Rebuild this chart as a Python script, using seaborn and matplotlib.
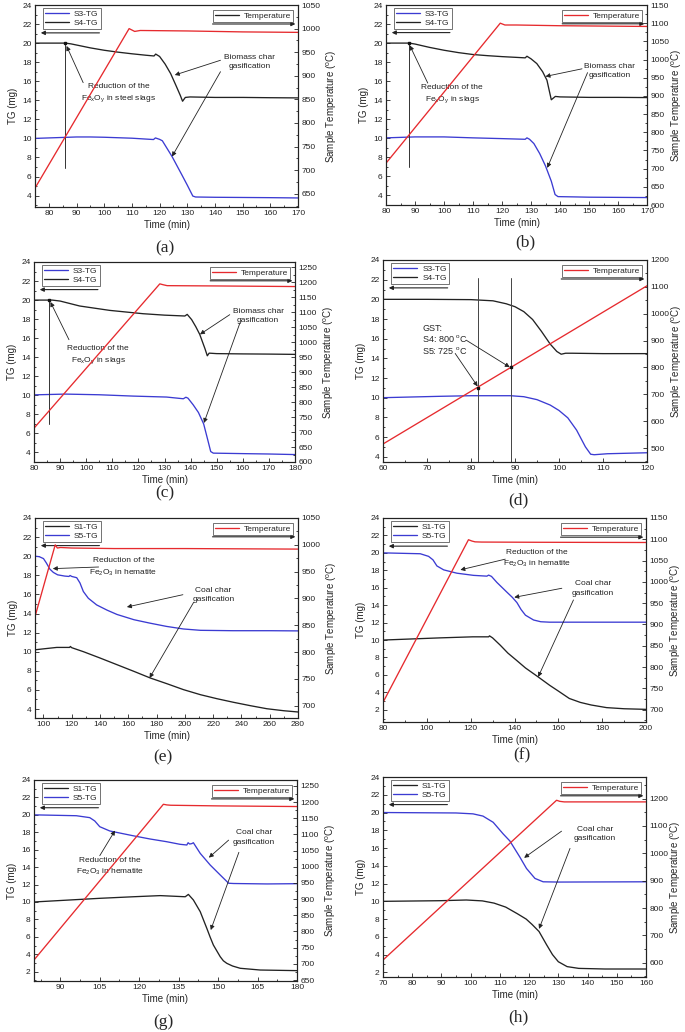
import numpy as np
import matplotlib
matplotlib.use("Agg")
import matplotlib.pyplot as plt
from matplotlib.lines import Line2D
from matplotlib.ticker import MultipleLocator
import seaborn as sns

sns.set_style("ticks")
plt.rcParams['font.family'] = ['Liberation Sans', 'DejaVu Sans']
plt.rcParams['mathtext.default'] = 'regular'

# ---------------- data ----------------
# (a)
A_S3_T = [75, 80, 90, 95, 100, 110, 117.8, 118.5, 120, 121, 124.5, 128, 130, 132, 133, 140, 150, 160, 170]
A_S3 = [10.0, 10.05, 10.15, 10.15, 10.12, 10.02, 9.88, 10.05, 9.9, 9.75, 8.1, 6.2, 5.1, 3.95, 3.85, 3.82, 3.8, 3.78, 3.75]
A_S4_T = [75, 86, 88, 90, 95, 100, 105, 110, 115, 118, 118.6, 120, 122, 124, 126, 127.5, 128.3, 129.3, 131, 140, 150, 160, 170]
A_S4 = [20.0, 20.0, 19.92, 19.8, 19.5, 19.25, 19.05, 18.88, 18.73, 18.65, 18.85, 18.6, 17.8, 16.8, 15.5, 14.5, 13.9, 14.3, 14.35, 14.3, 14.3, 14.27, 14.25]
A_TEMP_T = [75, 109, 110, 111, 113, 130, 150, 170]
A_TEMP = [662, 1000, 997, 994, 996, 995, 993, 992]
# (b)
B_S3_T = [80, 90, 100, 110, 120, 128, 128.6, 129.5, 131, 133, 135, 137, 138.3, 139.3, 145, 150, 160, 170]
B_S3 = [10.05, 10.15, 10.15, 10.05, 9.97, 9.9, 10.05, 9.9, 9.45, 8.4, 7.1, 5.5, 4.1, 3.88, 3.85, 3.82, 3.8, 3.78]
B_S4_T = [80, 88, 90, 95, 100, 105, 110, 115, 120, 125, 128, 128.6, 130, 132, 134, 135.5, 136.3, 137, 138.4, 140, 150, 160, 170]
B_S4 = [20.0, 20.0, 19.9, 19.55, 19.25, 19.0, 18.8, 18.68, 18.58, 18.5, 18.45, 18.62, 18.35, 17.85, 17.0, 16.1, 15.0, 14.05, 14.4, 14.35, 14.3, 14.3, 14.28]
B_TEMP_T = [80, 119.4, 121, 125, 140, 155, 170]
B_TEMP = [715, 1100, 1095, 1095, 1093, 1092, 1091]
# (c)
C_S3_T = [80, 92, 105, 118, 130.8, 137.2, 138.2, 139, 141, 143, 145, 146.5, 147.7, 148.7, 160, 170, 180]
C_S3 = [10.05, 10.13, 10.06, 9.92, 9.82, 9.64, 9.8, 9.7, 9.0, 8.2, 7.0, 5.4, 4.1, 3.93, 3.88, 3.84, 3.78]
C_S4_T = [80, 87, 90, 97.5, 109, 121.8, 130, 137.8, 138.7, 140.4, 142, 143.5, 145.5, 146.4, 147.1, 150, 160, 170, 180]
C_S4 = [20.0, 20.0, 19.9, 19.38, 18.92, 18.57, 18.42, 18.33, 18.5, 17.95, 17.2, 16.4, 14.9, 14.15, 14.43, 14.38, 14.35, 14.33, 14.3]
C_TEMP_T = [80, 128.2, 129.5, 131, 150, 180]
C_TEMP = [713, 1195, 1192, 1189, 1188, 1186]
# (d)
D_S3_T = [60, 73, 80, 89, 92, 95, 98, 100, 102, 104, 106, 107.2, 108, 111, 120]
D_S3 = [10.0, 10.14, 10.2, 10.2, 10.1, 9.8, 9.25, 8.7, 7.95, 6.7, 5.0, 4.25, 4.2, 4.3, 4.4]
D_S4_T = [60, 70, 80, 85, 88, 90, 92, 94, 96, 98, 99.5, 100.5, 101.5, 103, 110, 120]
D_S4 = [20.0, 20.0, 19.97, 19.85, 19.55, 19.25, 18.75, 17.95, 16.75, 15.45, 14.7, 14.42, 14.52, 14.52, 14.48, 14.48]
D_TEMP_T = [60, 120]
D_TEMP = [515, 1104]
D_GST_T = [81.7, 89.0]
D_GST = [725, 800]
# (e)
E_S1_T = [94, 100, 109.4, 118.5, 119, 120, 128.3, 140, 152, 164, 175.5, 187.3, 199, 211, 222.7, 234.5, 246.3, 258, 270, 280]
E_S1 = [10.2, 10.3, 10.45, 10.45, 10.55, 10.42, 10.0, 9.34, 8.64, 7.94, 7.25, 6.65, 6.03, 5.5, 5.08, 4.7, 4.35, 4.03, 3.82, 3.69]
E_S5_T = [94, 97, 100, 102, 104.5, 107, 110, 115, 118, 118.8, 120, 123.5, 125.8, 128.2, 131.7, 137.6, 145, 152, 164, 175, 187, 199, 211, 234, 260, 280]
E_S5 = [20.0, 19.95, 19.75, 19.3, 18.65, 18.3, 18.05, 17.92, 17.88, 17.98, 17.88, 17.75, 17.2, 16.3, 15.6, 14.9, 14.35, 13.9, 13.35, 13.0, 12.65, 12.38, 12.24, 12.2, 12.2, 12.18]
E_TEMP_T = [94, 108.3, 109.8, 112, 120, 150, 200, 280]
E_TEMP = [866, 1000, 994, 995, 994, 993, 993, 992]
# (f)
F_S1_T = [80, 106, 121, 128.2, 128.6, 130, 133.5, 137, 140.9, 145, 150.8, 156.1, 160, 165, 170, 175, 182, 190, 200]
F_S1 = [10.0, 10.25, 10.37, 10.37, 10.48, 10.25, 9.41, 8.5, 7.68, 6.8, 5.77, 4.8, 4.15, 3.3, 2.85, 2.55, 2.25, 2.12, 2.05]
F_S5_T = [80, 97, 100.8, 102.8, 104.6, 107.7, 113.7, 121.3, 127.4, 128.2, 129.5, 132, 136.5, 139, 141.1, 143, 145, 148.7, 152, 156, 180, 200]
F_S5 = [20.0, 19.9, 19.6, 19.2, 18.5, 18.05, 17.67, 17.42, 17.33, 17.45, 17.3, 16.6, 15.5, 14.9, 14.3, 13.5, 12.85, 12.3, 12.1, 12.05, 12.05, 12.05]
F_TEMP_T = [80, 119, 120.5, 122, 125, 150, 200]
F_TEMP = [717, 1099, 1096, 1094, 1093.5, 1093, 1092.5]
# (g)
G_S1_T = [80, 105, 117.8, 128, 137.5, 138.7, 140.6, 143.2, 145.7, 147, 148.2, 150.8, 152, 153.3, 155.5, 158.4, 166, 180]
G_S1 = [10.0, 10.42, 10.6, 10.73, 10.6, 10.87, 10.23, 8.89, 6.98, 5.95, 5.06, 3.72, 3.25, 2.96, 2.65, 2.39, 2.19, 2.12]
G_S5_T = [80, 96.1, 101.2, 103.1, 105, 108.8, 117.7, 124.1, 130.4, 135.5, 138.1, 138.6, 139.2, 140, 140.6, 143.2, 147, 150.8, 154, 155.9, 168.6, 180]
G_S5 = [20.0, 19.9, 19.68, 19.3, 18.64, 18.15, 17.6, 17.23, 16.92, 16.62, 16.54, 16.8, 16.65, 16.7, 16.8, 15.58, 14.24, 13.1, 12.15, 12.12, 12.07, 12.1]
G_TEMP_T = [80, 129.2, 130.5, 132, 150, 180]
G_TEMP = [712, 1193, 1191, 1190, 1188, 1186]
# (h)
H_S1_T = [70, 89.4, 98.5, 104, 108, 112, 116, 119, 121, 123.4, 126, 128, 130, 133, 137, 146, 160]
H_S1 = [10.0, 10.07, 10.15, 10.05, 9.8, 9.35, 8.6, 8.0, 7.4, 6.6, 5.1, 4.0, 3.2, 2.65, 2.45, 2.38, 2.38]
H_S5_T = [70, 95, 100.8, 104.2, 107.7, 111.1, 113.4, 116.8, 119.1, 122, 124.8, 130, 140, 160]
H_S5 = [20.0, 19.95, 19.85, 19.6, 18.9, 17.6, 16.8, 15.0, 13.7, 12.58, 12.2, 12.17, 12.18, 12.2]
H_TEMP_T = [70, 129.4, 130.5, 132, 160]
H_TEMP = [610, 1194, 1190, 1188, 1188]

# ---------------- styling ----------------
BLUE = '#3b3bd2'
BLACK = '#222222'
RED = '#e62a2e'
FS = 6
W, H = 685, 1032

fig = plt.figure(figsize=(W / 100, H / 100), dpi=100)


def px_rect(l, r, t, b):
    return [l / W, 1 - b / H, (r - l) / W, (b - t) / H]


def arrow(ax, xy_from, xy_to, coords='data', lw=0.6, ms=6.5):
    ax.annotate('', xy=xy_to, xytext=xy_from, xycoords=coords, textcoords=coords,
                arrowprops=dict(arrowstyle='-|>', color='#222222', lw=lw,
                                mutation_scale=ms, shrinkA=0, shrinkB=0))


def panel(cfg):
    ax = fig.add_axes(px_rect(*cfg['rect']))
    ax2 = ax.twinx()
    for name, t, v, c in cfg['series']:
        sns.lineplot(x=np.array(t, float), y=np.array(v, float), ax=ax, color=c,
                     linewidth=0.95, estimator=None, sort=False, legend=False)
    tt, tv = cfg['temp']
    sns.lineplot(x=np.array(tt, float), y=np.array(tv, float), ax=ax2, color=RED,
                 linewidth=0.95, estimator=None, sort=False, legend=False)
    ax.set_xlim(*cfg['xlim'])
    ax.set_ylim(*cfg['ylim'])
    ax2.set_ylim(*cfg['rlim'])
    ax.xaxis.set_major_locator(MultipleLocator(cfg['xmaj']))
    ax.xaxis.set_minor_locator(MultipleLocator(cfg['xmaj'] / 2))
    ax.yaxis.set_major_locator(MultipleLocator(2))
    ax.yaxis.set_minor_locator(MultipleLocator(1))
    ax2.yaxis.set_major_locator(MultipleLocator(cfg['rmaj']))
    ax2.yaxis.set_minor_locator(MultipleLocator(cfg['rmaj'] / 2))
    for a in (ax, ax2):
        for s in a.spines.values():
            s.set_linewidth(0.8)
            s.set_color('#222222')
    ax.tick_params(axis='both', which='both', direction='in', labelsize=FS,
                   pad=2.5, width=0.6, colors='#222222', top=False, right=False)
    ax.tick_params(which='major', length=3)
    ax.tick_params(which='minor', length=1.6)
    ax2.tick_params(axis='y', which='both', direction='in', labelsize=FS,
                    pad=2.5, width=0.6, colors='#222222')
    ax2.tick_params(which='major', length=3)
    ax2.tick_params(which='minor', length=1.6)
    ax.set_xlabel('Time (min)', fontsize=7, labelpad=2)
    ax.set_ylabel('TG (mg)', fontsize=7, labelpad=3)
    ax2.set_ylabel('Sample Temperature ($^o$C)', fontsize=7, labelpad=cfg.get('rpad', 3))

    handles = [Line2D([], [], color=c, lw=0.95) for _, _, _, c in cfg['series']]
    labels = [n for n, _, _, _ in cfg['series']]
    leg = ax.legend(handles, labels, loc='upper left', bbox_to_anchor=(0.03, 0.985),
                    fontsize=FS, frameon=True, fancybox=False, borderpad=0.25,
                    labelspacing=0.15, handlelength=2.9, handletextpad=0.6,
                    borderaxespad=0)
    leg.get_frame().set_edgecolor('#333333')
    leg.get_frame().set_linewidth(0.6)
    leg2 = ax2.legend([Line2D([], [], color=cfg.get('thandle', RED), lw=0.95)], ['Temperature'],
                      loc='upper right', bbox_to_anchor=(0.982, 0.975), fontsize=FS,
                      frameon=True, fancybox=False, borderpad=0.25, handlelength=2.9,
                      handletextpad=0.6, borderaxespad=0)
    leg2.get_frame().set_edgecolor('#333333')
    leg2.get_frame().set_linewidth(0.6)
    # axis indicator arrows
    arrow(ax, (0.245, 0.862), (0.022, 0.862), coords='axes fraction', lw=0.8, ms=6)
    arrow(ax, (0.675, 0.906), (0.99, 0.906), coords='axes fraction', lw=0.8, ms=6)

    for (x, y, s) in cfg.get('texts', []):
        ax.text(x, y, s, fontsize=FS, ha='center', va='center', linespacing=1.45,
                color='#222222')
    for (a0, a1) in cfg.get('arrows', []):
        arrow(ax, a0, a1)
    if 'vline' in cfg:
        x, y0, y1 = cfg['vline']
        ax.plot([x, x], [y0, y1], color='#333333', lw=0.7)
        ax.plot([x], [y1], marker='s', ms=1.8, color='#111111')
    return ax, ax2


cfgs = [
    dict(rect=(35, 298, 5, 207), xlim=(75, 170), ylim=(2.8, 24), rlim=(622, 1050),
         xmaj=10, rmaj=50, thandle=BLACK,
         series=[('S3-TG', A_S3_T, A_S3, BLUE), ('S4-TG', A_S4_T, A_S4, BLACK)],
         temp=(A_TEMP_T, A_TEMP),
         texts=[(105.3, 14.73, 'Reduction of the\nFe$_x$O$_y$ in steel slags'),
                (152.6, 18.05, 'Biomass char\ngasification')],
         arrows=[((92.4, 15.85), (86.4, 19.7)), ((142, 18.2), (125.5, 16.65)),
                 ((142, 17.0), (124.5, 8.1))],
         vline=(86, 6.9, 20.0), lab=('(a)', 165, 248)),
    dict(rect=(386, 647, 5, 205), xlim=(80, 170), ylim=(3, 24), rlim=(600, 1150),
         xmaj=10, rmaj=50, rpad=0.3,
         series=[('S3-TG', B_S3_T, B_S3, BLUE), ('S4-TG', B_S4_T, B_S4, BLACK)],
         temp=(B_TEMP_T, B_TEMP),
         texts=[(102.8, 14.6, 'Reduction of the\nFe$_x$O$_y$ in slags'),
                (157.1, 17.1, 'Biomass char\ngasification')],
         arrows=[((94.4, 15.8), (88.2, 19.76)), ((147.6, 17.3), (135.0, 16.5)),
                 ((149.5, 16.9), (135.6, 6.9))],
         vline=(88, 7.0, 20.0), lab=('(b)', 525, 242)),
    dict(rect=(34, 295, 262, 462), xlim=(80, 180), ylim=(3, 24), rlim=(600, 1268),
         xmaj=10, rmaj=50,
         series=[('S3-TG', C_S3_T, C_S3, BLUE), ('S4-TG', C_S4_T, C_S4, BLACK)],
         temp=(C_TEMP_T, C_TEMP),
         texts=[(104.6, 14.2, 'Reduction of the\nFe$_x$O$_y$ in slags'),
                (165.9, 18.3, 'Biomass char\ngasification')],
         arrows=[((93.4, 15.84), (86.3, 19.8)), ((155, 18.47), (143.6, 16.4)),
                 ((158.9, 17.6), (145.1, 7.1))],
         vline=(85.8, 7.0, 20.0), lab=('(c)', 165, 493)),
    dict(rect=(383, 647, 260, 462), xlim=(60, 120), ylim=(3.46, 24), rlim=(448, 1200),
         xmaj=10, rmaj=100, rpad=0.3,
         series=[('S3-TG', D_S3_T, D_S3, BLUE), ('S4-TG', D_S4_T, D_S4, BLACK)],
         temp=(D_TEMP_T, D_TEMP),
         arrows=[((78.9, 15.85), (88.8, 13.1)), ((76.4, 14.5), (81.5, 11.15))],
         lab=('(d)', 518, 500)),
    dict(rect=(35, 298, 518, 718), xlim=(94, 280), ylim=(3.06, 24), rlim=(677, 1050),
         xmaj=20, rmaj=50,
         series=[('S1-TG', E_S1_T, E_S1, BLACK), ('S5-TG', E_S5_T, E_S5, BLUE)],
         temp=(E_TEMP_T, E_TEMP),
         texts=[(156.6, 18.8, 'Reduction of the\nFe$_2$O$_3$ in hematite'),
                (220.3, 15.95, 'Coal char\ngasification')],
         arrows=[((139, 18.87), (106.6, 18.7)), ((198.6, 15.97), (159, 14.68)),
                 ((206.2, 15.17), (175, 7.25))],
         lab=('(e)', 163, 757)),
    dict(rect=(383, 646, 518, 722), xlim=(80, 200), ylim=(0.6, 24), rlim=(671, 1150),
         xmaj=20, rmaj=50, rpad=0.3,
         series=[('S1-TG', F_S1_T, F_S1, BLACK), ('S5-TG', F_S5_T, F_S5, BLUE)],
         temp=(F_TEMP_T, F_TEMP),
         texts=[(150.2, 19.3, 'Reduction of the\nFe$_2$O$_3$ in hematite'),
                (175.7, 15.9, 'Coal char\ngasification')],
         arrows=[((135.8, 19.28), (115.3, 18.05)), ((161.6, 15.94), (139.9, 14.9)),
                 ((166.9, 14.6), (150.8, 5.77))],
         lab=('(f)', 522, 755)),
    dict(rect=(34, 297, 780, 981), xlim=(80, 180), ylim=(0.93, 24), rlim=(647, 1268),
         xmaj=15, rmaj=50,
         series=[('S1-TG', G_S1_T, G_S1, BLACK), ('S5-TG', G_S5_T, G_S5, BLUE)],
         temp=(G_TEMP_T, G_TEMP),
         texts=[(108.9, 14.0, 'Reduction of the\nFe$_2$O$_3$ in hematite'),
                (163.7, 17.4, 'Coal char\ngasification')],
         arrows=[((105, 15.31), (110.8, 18.2)), ((154, 17.1), (146.5, 15.09)),
                 ((157.9, 15.7), (147.2, 6.78))],
         lab=('(g)', 163, 1022)),
    dict(rect=(383, 646, 777, 977), xlim=(70, 160), ylim=(1.48, 24), rlim=(548, 1279),
         xmaj=10, rmaj=100, rpad=0.3,
         series=[('S1-TG', H_S1_T, H_S1, BLACK), ('S5-TG', H_S5_T, H_S5, BLUE)],
         temp=(H_TEMP_T, H_TEMP),
         texts=[(142.5, 17.6, 'Coal char\ngasification')],
         arrows=[((131.1, 17.9), (118.3, 14.9)), ((134, 15.96), (123.4, 6.9))],
         lab=('(h)', 518, 1017)),
]

axes = []
for cfg in cfgs:
    ax, ax2 = panel(cfg)
    axes.append((ax, ax2))
    s, x, y = cfg['lab']
    fig.text(x / W, 1 - y / H, s, ha='center', va='center',
             family=['Liberation Serif', 'DejaVu Serif'], fontsize=12.5)

# (d) extras: GST lines, dots and text
axd, axd2 = axes[3]
for t in D_GST_T:
    axd.plot([t, t], [22.17, 3.46], color='#444444', lw=0.7)
axd2.plot(D_GST_T, D_GST, linestyle='none', marker='s', ms=2, color='#111111')
axd.text(68.9, 17.08, 'GST:', fontsize=FS + 0.5, ha='left', va='center')
axd.text(68.9, 16.0, 'S4: 800 $^o$C', fontsize=FS + 0.5, ha='left', va='center')
axd.text(68.9, 14.8, 'S5: 725 $^o$C', fontsize=FS + 0.5, ha='left', va='center')

fig.savefig('out.png', dpi=100)
